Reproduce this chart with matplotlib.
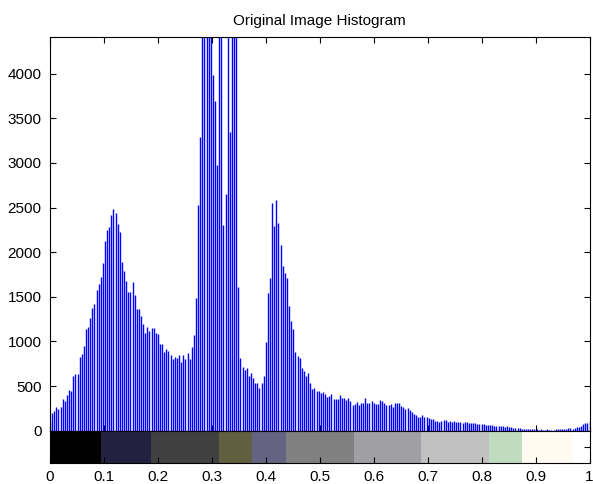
import numpy as np
import matplotlib
matplotlib.use("Agg")
import matplotlib.pyplot as plt
from matplotlib.colors import ListedColormap

plt.rcParams['font.family'] = ['Liberation Sans', 'DejaVu Sans']

# histogram counts, 256 bins from 0 to 1 (bars above ylim are clipped like imhist)
counts = [
    112, 194, 216, 261, 239, 261, 358, 336, 403, 455, 440, 612, 634, 634, 820, 858,
    947, 1141, 1156, 1268, 1373, 1417, 1581, 1641, 1723, 1880, 2126, 2253, 2283, 2417, 2484,
    2440, 2320, 2224, 1888, 1791, 1679, 1552, 1552, 1664, 1515, 1366, 1358, 1283, 1194, 1097,
    1164, 1119, 1149, 1149, 1097, 1082, 970, 970, 880, 910, 895, 843, 806, 828, 813, 843,
    768, 850, 798, 873, 798, 940, 1067,
    1485, 2529,
    3287, 5200, 4800, 5600, 4700, 6200, 3980, 3690, 2973, 4700, 4550, 2300, 2650, 4800,
    3343, 5300, 4900, 5800,
    1611, 809, 716, 679, 697, 615, 642, 586, 530, 537, 474, 537, 615, 996, 1548, 1705,
    2555, 2290, 2581, 2327, 2078, 1843, 1772, 1716, 1399, 1231,
    1134, 884, 836, 809, 697, 671, 615, 642, 530, 462, 474, 448, 448, 418, 436, 410,
    380, 392, 407, 351, 354, 351, 399, 362, 362, 343,
    366, 336, 283, 298, 321, 283, 313, 313, 366, 306, 313, 328, 306, 298, 298, 343,
    328, 306, 283, 291, 298, 269, 306, 313, 306, 276, 261, 239, 254, 231, 209, 187,
    172, 157, 149, 172, 157, 149, 142, 134, 127, 112, 104, 97, 104, 119, 119, 97,
    112, 101, 104, 101, 101, 101, 90, 93, 93, 90, 82, 82, 82, 71, 71, 71,
    75, 67, 63, 63, 60, 56, 56, 52, 52, 52, 45, 52, 45, 37, 34, 34,
    30, 26, 22, 19, 19, 22, 15, 15, 15, 15, 11, 19, 7, 7, 15, 7,
    7, 11, 15, 15, 19, 15, 19,
    22, 26, 30, 22, 26, 37, 45, 52, 75, 90, 82, 112,
]
bin_pos = np.linspace(0, 1, len(counts))

# image colormap shown under the histogram (colour, number of cells out of 32)
cmap_colors = ['#000000', '#222240', '#404040', '#606040', '#646482', '#808080',
               '#a0a0a4', '#c0c0c0', '#c0dcc0', '#fffbf0', '#ffffff']
cmap_cells = [3, 3, 4, 2, 2, 4, 4, 4, 2, 3, 1]

y_max = 4410
x_ticks = np.round(np.arange(0, 1.01, 0.1), 1)
y_ticks = np.arange(0, 4001, 500)

W, H = 593, 484
fig = plt.figure(figsize=(W / 100, H / 100), dpi=100)
ax = fig.add_axes([50 / W, 1 - 430.7 / H, 539.5 / W, 393.7 / H])
ax_cb = fig.add_axes([50 / W, 1 - 462.7 / H, 539.5 / W, 32 / H])

ax.vlines(bin_pos, 0, counts, colors='#0000ff', linewidth=1.0)
ax.set_xlim(0, 1)
ax.set_ylim(0, y_max)
ax.set_xticks(x_ticks)
ax.set_xticklabels([])
ax.set_yticks(y_ticks)
ax.tick_params(direction='in', length=4, width=0.8, top=True, right=True,
               labelsize=11, pad=6, colors='black')
for s in ax.spines.values():
    s.set_linewidth(0.8)
ax.set_title('Original Image Histogram', fontsize=11, pad=9)

cells = []
for c, n in zip(cmap_colors, cmap_cells):
    cells += [c] * n
ax_cb.imshow(np.arange(len(cells))[None, :], cmap=ListedColormap(cells),
             extent=(0, 1, 0, 1), aspect='auto', interpolation='nearest')
ax_cb.set_xlim(0, 1)
ax_cb.set_ylim(0, 1)
ax_cb.set_xticks(x_ticks)
ax_cb.set_xticklabels([f'{t:g}' for t in x_ticks])
ax_cb.set_yticks([0.5])
ax_cb.set_yticklabels([])
ax_cb.tick_params(direction='in', length=4, width=0.8, left=False, right=True,
                  labelsize=11, pad=5)
for s in ax_cb.spines.values():
    s.set_linewidth(0.8)

fig.savefig('out.png', dpi=100, facecolor='white')
